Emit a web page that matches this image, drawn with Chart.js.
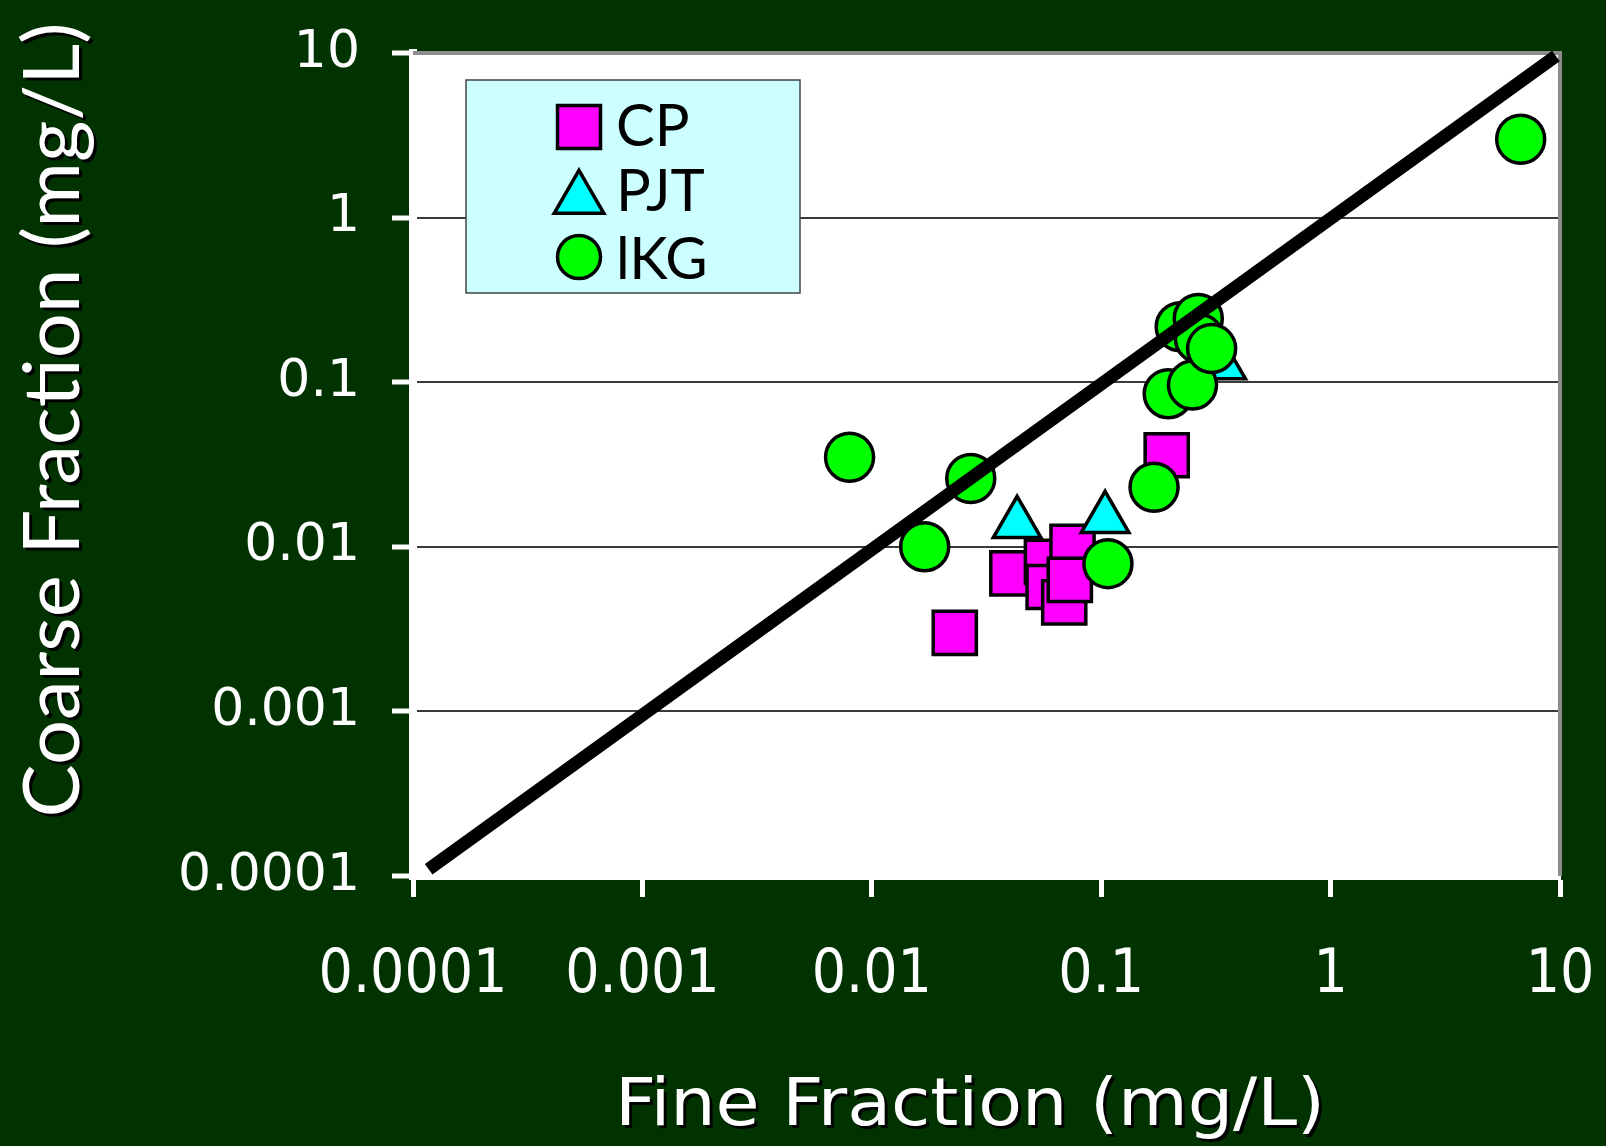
<!DOCTYPE html>
<html>
<head>
<meta charset="utf-8">
<title>Coarse vs Fine Fraction</title>
<script src="https://cdn.jsdelivr.net/npm/chart.js@4.4.1/dist/chart.umd.min.js"></script>
<style>
  html, body { margin: 0; padding: 0; background: #003300; }
  #chart { display: block; }
</style>
</head>
<body>
<canvas id="chart" width="1606" height="1146"></canvas>
<script>
// axis ticks (both axes are log, one decade per tick)
const tickValues = [0.0001, 0.001, 0.01, 0.1, 1, 10];
const tickLabels = ['0.0001', '0.001', '0.01', '0.1', '1', '10'];

// fine fraction (x) vs coarse fraction (y), mg/L
const cpFine    = [0.193, 0.023, 0.041, 0.058, 0.075, 0.059, 0.069, 0.073];
const cpCoarse  = [0.036, 0.0030, 0.0069, 0.0081, 0.010, 0.0057, 0.0046, 0.0063];

const pjtFine   = [0.043, 0.104, 0.335];
const pjtCoarse = [0.0138, 0.0148, 0.127];

const ikgFine   = [0.008, 0.027, 0.017, 0.107, 0.17, 0.196, 0.25, 0.221, 0.265, 0.268, 0.303, 6.74];
const ikgCoarse = [0.035, 0.026, 0.010, 0.0079, 0.023, 0.085, 0.096, 0.217, 0.244, 0.184, 0.160, 2.99];

// 1:1 line
const lineFine   = [0.000117, 9.6];
const lineCoarse = [0.00011, 9.6];

const toPoints = (xs, ys) => xs.map((x, i) => ({ x: x, y: ys[i] }));

const legendItems = [
  { label: 'CP',  shape: 'rect',     color: '#ff00ff' },
  { label: 'PJT', shape: 'triangle', color: '#00ffff' },
  { label: 'lKG', shape: 'circle',   color: '#00ff00' }
];

function marker(ctx, shape, x, y, size, color) {
  ctx.beginPath();
  if (shape === 'rect') {
    ctx.rect(x - size / 2, y - size / 2, size, size);
  } else if (shape === 'triangle') {
    const r = size / 1.5;
    ctx.moveTo(x, y - r);
    ctx.lineTo(x + r * 0.866, y + r / 2);
    ctx.lineTo(x - r * 0.866, y + r / 2);
    ctx.closePath();
  } else {
    ctx.arc(x, y, size / 2, 0, Math.PI * 2);
  }
  ctx.fillStyle = color;
  ctx.fill();
  ctx.lineWidth = 3.5;
  ctx.strokeStyle = '#000';
  ctx.stroke();
}

function fitText(ctx, text, width) {
  const w = ctx.measureText(text).width;
  ctx.scale(width / w, 1);
  ctx.fillText(text, 0, 0);
}

const plotFrame = {
  id: 'plotFrame',
  beforeDraw(c) {
    const ctx = c.ctx, a = c.chartArea;
    ctx.save();
    ctx.fillStyle = '#003300';
    ctx.fillRect(0, 0, c.width, c.height);
    ctx.fillStyle = '#ffffff';
    ctx.fillRect(a.left, a.top, a.right - a.left, a.bottom - a.top);
    ctx.restore();
  },
  beforeDatasetsDraw(c) {
    const ctx = c.ctx, a = c.chartArea;
    ctx.save();
    ctx.strokeStyle = '#8c8c8c';
    ctx.lineWidth = 4;
    ctx.beginPath();
    ctx.moveTo(a.left, a.top);
    ctx.lineTo(a.right, a.top);
    ctx.lineTo(a.right, a.bottom);
    ctx.stroke();
    ctx.restore();
  },
  afterDraw(c) {
    const ctx = c.ctx, a = c.chartArea;

    // legend box
    const bx = a.left + 53, by = a.top + 27, bw = 334, bh = 213;
    ctx.save();
    ctx.fillStyle = '#ccffff';
    ctx.fillRect(bx, by, bw, bh);
    ctx.strokeStyle = '#444';
    ctx.lineWidth = 1.5;
    ctx.strokeRect(bx, by, bw, bh);
    const rowY = [47, 119, 177];
    const baseY = [66, 131, 199];
    ctx.font = '58px Lato, "DejaVu Sans", sans-serif';
    ctx.textBaseline = 'alphabetic';
    ctx.textAlign = 'left';
    legendItems.forEach((it, i) => {
      marker(ctx, it.shape, bx + 113, by + rowY[i], 43, it.color);
      ctx.fillStyle = '#000';
      ctx.fillText(it.label, bx + 150, by + baseY[i]);
    });
    ctx.restore();

    // axis titles, white with a dark drop shadow
    ctx.save();
    ctx.fillStyle = '#ffffff';
    ctx.shadowColor = 'rgba(0,0,0,0.95)';
    ctx.shadowOffsetX = 3;
    ctx.shadowOffsetY = 3;
    ctx.textAlign = 'center';
    ctx.textBaseline = 'alphabetic';

    ctx.save();
    ctx.translate(79, 420);
    ctx.rotate(-Math.PI / 2);
    ctx.font = '78px Lato, "DejaVu Sans", sans-serif';
    fitText(ctx, 'Coarse Fraction (mg/L)', 795);
    ctx.restore();

    ctx.save();
    ctx.translate(970, 1125);
    ctx.font = '66px "Liberation Sans Narrow", "DejaVu Sans Condensed", sans-serif';
    fitText(ctx, 'Fine Fraction (mg/L)', 710);
    ctx.restore();
    ctx.restore();
  }
};

const decadeTicks = scale => {
  scale.ticks = tickValues.map(v => ({ value: v }));
};
const tickText = v => tickLabels[tickValues.indexOf(v)];

const markerSet = (label, xs, ys, style, radius, color) => ({
  label: label,
  data: toPoints(xs, ys),
  pointStyle: style,
  pointRadius: radius,
  pointBackgroundColor: color,
  pointBorderColor: '#000',
  pointBorderWidth: 3.5,
  backgroundColor: color,
  borderColor: '#000',
  clip: false
});

new Chart(document.getElementById('chart'), {
  type: 'scatter',
  data: {
    datasets: [
      {
        label: '1:1',
        data: toPoints(lineFine, lineCoarse),
        showLine: true,
        borderColor: '#000',
        borderWidth: 13,
        pointRadius: 0,
        clip: false
      },
      markerSet('lKG', ikgFine, ikgCoarse, 'circle', 24, '#00ff00'),
      markerSet('PJT', pjtFine, pjtCoarse, 'triangle', 27.5, '#00ffff'),
      markerSet('CP', cpFine, cpCoarse, 'rect', 30.5, '#ff00ff')
    ]
  },
  options: {
    responsive: false,
    animation: false,
    layout: { padding: { left: 0, top: 53, right: 46, bottom: 0 } },
    plugins: {
      legend: { display: false },
      tooltip: { enabled: false }
    },
    scales: {
      x: {
        type: 'logarithmic',
        min: 0.0001,
        max: 10,
        afterBuildTicks: decadeTicks,
        afterFit: s => { s.height = 270; s.paddingLeft = 0; s.paddingRight = 0; },
        ticks: {
          color: '#ffffff',
          font: { family: '"Liberation Sans Narrow", "DejaVu Sans Condensed", sans-serif', size: 60 },
          padding: 43,
          maxRotation: 0,
          autoSkip: false,
          callback: tickText
        },
        grid: { drawOnChartArea: false, tickLength: 21, tickColor: '#ffffff', tickWidth: 5 },
        border: { color: '#ffffff', width: 8 }
      },
      y: {
        type: 'logarithmic',
        min: 0.0001,
        max: 10,
        afterBuildTicks: decadeTicks,
        afterFit: s => { s.width = 413; s.paddingTop = 0; s.paddingBottom = 0; },
        ticks: {
          color: '#ffffff',
          font: { family: '"DejaVu Sans", sans-serif', size: 52 },
          padding: 32,
          autoSkip: false,
          callback: tickText
        },
        grid: { color: '#3a3a3a', lineWidth: 2, tickLength: 21, tickColor: '#ffffff', tickWidth: 5 },
        border: { color: '#ffffff', width: 8 }
      }
    }
  },
  plugins: [plotFrame]
});
</script>
</body>
</html>
